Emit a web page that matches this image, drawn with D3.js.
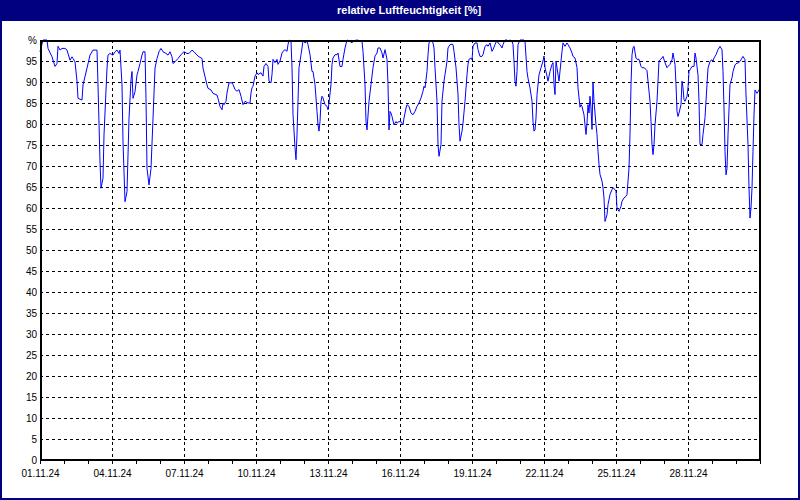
<!DOCTYPE html>
<html><head><meta charset="utf-8">
<script src="https://cdn.jsdelivr.net/npm/d3@7/dist/d3.min.js"></script>
<style>html,body{margin:0;padding:0;background:#fff;}svg{display:block;}</style>
</head><body>
<svg id="chart" width="800" height="500"></svg>
<script>
const title = "relative Luftfeuchtigkeit [%]";
const startDate = "2024-11-01";
const endDate = "2024-12-01";
const yTicks = [0,5,10,15,20,25,30,35,40,45,50,55,60,65,70,75,80,85,90,95,100];
const labelDays = ["01.11.24","04.11.24","07.11.24","10.11.24","13.11.24","16.11.24","19.11.24","22.11.24","25.11.24","28.11.24"];
// hours since 01.11.24 00:00
const hours = [0,3,7,8,12,15,17,18,20,22,25,27,30,32,33,35,37,38,42,43,47,50,53,57,58,60,61,63,64,67,68,70,73,75,77,79,80,82,83,85,87,89,91,92,93,95,97,98,100,102,103,105,106,107,109,111,113,115,117,119,121,123,126,128,130,132,133,135,138,142,144,147,149,152,154,157,159,162,163,167,168,171,173,177,178,
180,182,183,184,186,187,189,192,193,195,197,199,201,203,205,208,210,211,212,213,215,217,218,221,223,224,226,228,229,231,232,233,235,237,238,240,242,243,245,247,248,249,251,252,253,255,256,257,258,259,261,262,263,265,267,268,270,272,273,275,277,278,279,280,281,282,283,285,287,288,289,291,292,293,295,297,298,300,302,303,305,307,310,312,313,317,320,322,323,325,326,327,329,331,333,335,337,338,340,342,343,345,347,348,349,350,351,352,354,356,357,359,
360,361,363,364,366,367,369,371,373,375,377,379,381,383,384,385,387,388,389,391,393,394,395,397,398,399,401,402,404,405,407,408,410,412,413,414,416,418,419,420,422,423,425,427,428,429,431,432,433,435,437,438,440,442,443,445,447,448,450,452,453,455,457,458,460,462,463,465,467,468,470,472,473,474,475,476,477,478,480,484,485,487,488,490,492,493,494,495,496,497,499,501,503,504,505,507,508,510,512,513,514,515,516,517,519,522,523,525,527,528,530,532,533,535,537,538,
540,541,542,544,545,546,547,548,549,550,551,552,553,554,556,557,558,559,560,562,563,564,565,567,568,570,572,573,575,576,577,579,581,582,584,586,587,589,590,591,592,593,594,596,597,599,601,602,604,606,607,608,610,611,612,613,614,615,617,619,620,622,623,625,627,628,630,632,633,635,636,637,638,639,641,642,643,644,645,647,648,649,651,652,654,655,656,658,659,660,662,663,665,667,668,670,672,673,674,676,678,680,682,683,684,685,686,687,688,690,692,693,695,697,698,700,702,703,705,706,708,709,710,711,712,713,714,715,717,718,720];
const humidity = [97.2,100,100,98.0,96.0,93.7,94.4,98.5,97.6,98.0,98.0,97.6,95.2,96.0,95.6,94.8,90.2,86.1,85.7,89.3,93.3,96.4,97.6,97.6,89.3,71.0,64.7,67.1,77.4,93.3,96.4,96.8,96.4,97.2,97.6,96.8,97.6,89.3,75.8,61.5,63.9,81.3,90.5,92.5,86.1,87.7,91.7,92.5,94.4,96.4,97.2,97.2,86.1,69.4,65.5,69.4,81.3,93.3,95.6,97.2,98.0,97.2,96.8,96.4,97.2,96.0,94.4,94.8,95.6,96.8,97.2,96.8,96.8,97.6,97.2,96.4,96.0,95.6,93.3,89.3,88.5,88.1,87.3,86.9,86.1,
84.2,83.4,85.0,84.6,85.4,87.4,89.8,89.8,89.4,88.2,87.8,88.2,86.6,84.6,85.4,85.0,85.0,87.4,88.6,89.0,91.4,92.2,91.8,92.2,91.4,93.7,94.4,93.7,90.2,89.8,91.8,95.4,94.6,95.4,94.2,95.0,96.9,97.3,97.7,97.3,98.9,100,99.7,93.4,82.3,74.4,71.5,77.5,85.4,93.4,96.5,98.1,100,99.3,99.7,98.9,96.5,92.5,92.5,89.4,83.0,79.8,78.3,80.6,85.4,86.6,86.2,84.6,84.2,83.4,85.0,89.4,94.2,95.7,96.5,96.5,96.9,93.7,93.7,95.4,98.1,100,99.7,99.3,99.8,100,99.8,99.7,97.3,89.4,80.6,78.6,85.4,89.4,93.4,96.2,96.9,98.1,98.1,96.9,95.7,97.7,95.4,89.4,78.6,83.0,82.6,81.8,79.8,80.6,80.2,80.6,
80.5,80.6,79.8,81.4,83.8,84.6,84.2,82.6,82.2,83.0,84.2,85.0,86.2,87.8,89.0,88.6,92.5,96.5,99.3,100,99.3,98.1,93.4,85.4,75.1,72.3,75.1,85.4,90.2,91.8,94.9,98.1,98.9,99.0,98.9,97.3,93.4,87.1,79.8,75.9,78.3,80.2,85.4,91.7,94.2,95.4,95.7,95.3,98.5,99.3,99.3,97.7,96.1,96.1,96.5,98.5,98.9,98.5,99.3,97.3,97.7,98.9,100,99.3,98.9,98.1,98.9,100,100,99.7,100,99.7,98.9,94.9,90.2,89.0,92.5,98.9,100,100,99.7,92.5,90.9,88.6,85.4,80.6,78.3,78.6,81.4,87.0,91.7,93.4,95.0,96.2,93.4,91.4,90.2,92.5,94.2,94.6,89.4,87.0,95.0,93.4,90.2,97.3,99.3,98.5,99.3,98.9,98.1,96.9,96.1,95.7,93.4,88.6,
84.0,84.6,84.2,82.2,79.8,77.5,80.2,84.6,82.6,86.6,83.8,78.7,89.8,85.4,79.8,77.5,73.5,70.4,68.0,66.4,64.8,62.4,56.8,58.4,60.8,63.2,64.4,64.8,64.4,64.0,60.0,59.2,60.4,61.6,62.4,62.8,63.2,69.5,77.5,89.4,96.5,98.1,98.5,95.7,95.4,95.4,93.7,93.4,93.4,93.0,92.7,90.2,85.4,80.6,75.1,72.7,75.1,79.8,85.4,95.0,95.3,95.7,96.1,94.6,93.4,93.7,94.2,95.3,96.9,94.2,89.4,83.0,81.8,82.6,84.6,90.2,88.6,85.8,85.4,86.6,88.6,92.5,93.3,93.7,93.7,96.9,95.7,91.7,85.4,75.1,75.1,77.5,81.5,89.4,93.3,94.9,95.3,94.9,95.7,96.5,97.7,98.5,97.7,92.5,83.8,73.5,67.9,69.4,77.4,89.4,91.0,92.5,94.1,94.5,94.5,94.9,95.7,96.1,95.3,86.9,75.1,64.8,57.6,60.0,64.8,73.5,82.2,88.1,87.3,87.7,88.5];

const W = 800, H = 500;
const m = {left: 40, right: 40, top: 40, bottom: 40};
const svg = d3.select("#chart");
const t0 = new Date(startDate + "T00:00:00Z"), t1 = new Date(endDate + "T00:00:00Z");
const x = d3.scaleUtc().domain([t0, t1]).range([m.left, W - m.right]);
const y = d3.scaleLinear().domain([0, 100]).range([H - m.bottom, m.top]);
const fmt = d3.utcFormat("%d.%m.%y");
const data = hours.map((h, i) => ({t: d3.utcHour.offset(t0, h), v: humidity[i]}));

svg.append("rect").attr("width", W).attr("height", H).attr("fill", "#ffffff");
svg.append("rect").attr("width", W).attr("height", 21).attr("fill", "#000080");
svg.append("rect").attr("x", 0).attr("y", 0).attr("width", 2).attr("height", H).attr("fill", "#000080");
svg.append("rect").attr("x", W - 2).attr("y", 0).attr("width", 2).attr("height", H).attr("fill", "#000080");
svg.append("rect").attr("x", 0).attr("y", H - 2).attr("width", W).attr("height", 2).attr("fill", "#000080");
svg.append("text").attr("x", 337).attr("y", 14).attr("fill", "#fff")
  .attr("font-family", "'Liberation Sans', Arial, sans-serif").attr("font-size", 11).attr("font-weight", "bold")
  .text(title);

// grids
const gridY = svg.append("g").attr("transform", `translate(${m.left},0)`)
  .call(d3.axisLeft(y).tickValues(yTicks.filter(d => d > 0 && d < 100)).tickSize(-(W - m.left - m.right)).tickFormat(""));
gridY.select(".domain").remove();
gridY.selectAll("line").attr("stroke", "#000").attr("stroke-dasharray", "3,3").attr("shape-rendering", "crispEdges");

const labelDates = labelDays.map(s => d3.utcParse("%d.%m.%y")(s));
const gridX = svg.append("g").attr("transform", `translate(0,${m.top})`)
  .call(d3.axisTop(x).tickValues(labelDates.filter(d => +d > +t0)).tickSize(-(H - m.top - m.bottom)).tickFormat(""));
gridX.select(".domain").remove();
gridX.selectAll("line").attr("stroke", "#000").attr("stroke-dasharray", "3,3").attr("shape-rendering", "crispEdges");

// line
svg.append("path").datum(data)
  .attr("fill", "none").attr("stroke", "#0000ff").attr("stroke-width", 1)
  .attr("d", d3.line().x(d => x(d.t)).y(d => y(d.v)));

// frame
svg.append("rect").attr("x", m.left).attr("y", m.top).attr("width", W - m.left - m.right + 1).attr("height", 2).attr("fill", "#000");
svg.append("rect").attr("x", m.left).attr("y", m.top).attr("width", 2).attr("height", H - m.top - m.bottom + 1).attr("fill", "#000");
svg.append("rect").attr("x", W - m.right - 1).attr("y", m.top).attr("width", 2).attr("height", H - m.top - m.bottom + 1).attr("fill", "#000");
svg.append("rect").attr("x", m.left).attr("y", H - m.bottom - 1).attr("width", W - m.left - m.right + 1).attr("height", 2).attr("fill", "#000");

// y labels
const yAx = svg.append("g").attr("transform", `translate(${m.left},0)`)
  .call(d3.axisLeft(y).tickValues(yTicks).tickSize(0).tickPadding(3).tickFormat(d => d === 100 ? "%" : d));
yAx.select(".domain").remove();
yAx.selectAll("text").attr("font-family", "'Liberation Sans', Arial, sans-serif").attr("font-size", 10).attr("fill", "#000");

// x minor ticks every day
const xMinor = svg.append("g").attr("transform", `translate(0,${H - m.bottom})`)
  .call(d3.axisBottom(x).ticks(d3.utcDay.every(1)).tickSize(4).tickFormat(""));
xMinor.select(".domain").remove();
xMinor.selectAll("line").attr("stroke", "#000").attr("shape-rendering", "crispEdges");

// x labels
const xAx = svg.append("g").attr("transform", `translate(0,${H - m.bottom})`)
  .call(d3.axisBottom(x).tickValues(labelDates).tickSize(0).tickPadding(10).tickFormat(fmt));
xAx.select(".domain").remove();
xAx.selectAll("text").attr("font-family", "'Liberation Sans', Arial, sans-serif").attr("font-size", 10).attr("fill", "#000");
</script>
</body></html>
